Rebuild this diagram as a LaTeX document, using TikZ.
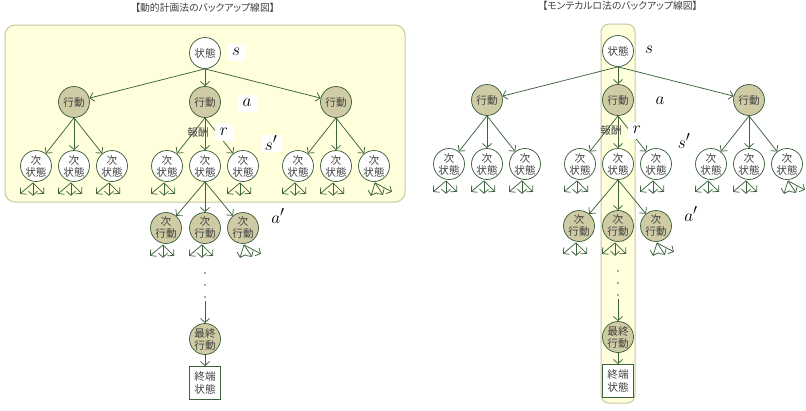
\documentclass[tikz,border=0pt]{standalone}
\usepackage{fontspec}
\newfontfamily\jp{Noto Sans CJK JP}
\newfontfamily\jpt{Noto Sans CJK JP}[RawFeature=+palt]
\usetikzlibrary{arrows.meta}
\definecolor{lc}{HTML}{3E623E}
\definecolor{actf}{HTML}{CFCBA5}
\definecolor{yf}{HTML}{FFFFDB}
\definecolor{yd}{HTML}{C4C9A4}
\definecolor{tc}{HTML}{404040}
\tikzset{
  arr/.style={draw=lc, line width=0.75pt, -{Straight Barb[length=4.2pt,width=9pt]}},
  stnode/.style={circle, draw=lc, fill=white, line width=0.75pt, inner sep=0pt,
    minimum size=31pt, font=\jp\fontsize{10.6}{12}\selectfont, text=tc, align=center},
  actnode/.style={stnode, fill=actf},
  termnode/.style={rectangle, draw=lc, fill=white, line width=0.75pt, inner sep=0pt,
    minimum width=31pt, minimum height=33pt, font=\jp\fontsize{10.6}{13}\selectfont,
    text=tc, align=center},
  lab/.style={fill=white, inner sep=0pt, minimum width=19pt, minimum height=17pt,
    font=\fontsize{19}{19}\selectfont},
  jlab/.style={font=\jp\fontsize{10.6}{11}\selectfont, text=tc, inner sep=0pt},
  ttl/.style={font=\jpt\fontsize{9.8}{10}\selectfont, text=tc},
  dotnode/.style={circle, fill=lc, inner sep=0pt, minimum size=1.8pt},
  ybox/.style={draw=yd, fill=yf, line width=1pt}
}
% ordinary fan of three short arrows below a node
\newcommand\fanN[1]{%
  \draw[arr] ([xshift=-3pt,yshift=-1pt]#1.south) -- ++(-13,11);
  \draw[arr] ([xshift=-3pt,yshift=-1pt]#1.south) -- ++(0,13);
  \draw[arr] ([xshift=-3pt,yshift=-1pt]#1.south) -- ++(11,11);}
% tilted fan
\newcommand\fanT[1]{%
  \draw[arr] ([xshift=1pt,yshift=-1pt]#1.south) -- ++(-4,13);
  \draw[arr] ([xshift=1pt,yshift=-1pt]#1.south) -- ++(8,12);
  \draw[arr] ([xshift=1pt,yshift=-1pt]#1.south) -- ++(17,9);}
\newcommand\mypanel[1]{%
  \node[stnode] (#1root) at (205,53) {状態};
  \node[actnode] (#1a1) at (74,102) {行動};
  \node[actnode] (#1a2) at (205,102) {行動};
  \node[actnode] (#1a3) at (336,102) {行動};
  \foreach \i/\x in {1/74,2/205,3/336}{
    \node[stnode] (#1n\i1) at (\x-38,166) {次\\状態};
    \node[stnode] (#1n\i2) at (\x,166) {次\\状態};
    \node[stnode] (#1n\i3) at (\x+38,166) {次\\状態};
    \draw[arr] (#1root.south) -- (#1a\i);
    \foreach \j in {1,2,3}{\draw[arr] (#1a\i.south) -- (#1n\i\j);}
  }
  \fanN{#1n11}\fanN{#1n12}\fanN{#1n13}
  \fanN{#1n21}\fanN{#1n23}
  \fanN{#1n31}\fanN{#1n32}\fanT{#1n33}
  \node[actnode] (#1m1) at (166,228) {次\\行動};
  \node[actnode] (#1m2) at (205,228) {次\\行動};
  \node[actnode] (#1m3) at (243,228) {次\\行動};
  \foreach \j in {1,2,3}{\draw[arr] (#1n22.south) -- (#1m\j);}
  \fanN{#1m1}\fanN{#1m2}\fanT{#1m3}
  \node[dotnode] (#1d1) at (205,273) {};
  \node[dotnode] (#1d2) at (205,285) {};
  \node[dotnode] (#1d3) at (205,297) {};
  \coordinate (#1dd) at (205,301);
  \node[actnode] (#1fin) at (205,339) {最終\\行動};
  \node[termnode] (#1term) at (205,383) {終端\\状態};
  \draw[arr] (#1dd) -- (#1fin);
  \draw[arr] (#1fin) -- (#1term);
  \node[lab] (#1ls) at (236,52) {$s$};
  \node[lab] (#1la) at (247,103) {$a$};
  \node[jlab] (#1lrw) at (198,132) {報酬};
  \node[lab] (#1lr) at (224,132) {$r$};
  \node[lab] (#1lsp) at (271,143) {$s'$};
  \node[lab] (#1lap) at (278,216) {$a'$};
}
\begin{document}
\begin{tikzpicture}[x=1pt,y=-1pt]
\useasboundingbox (0,0) rectangle (806,410);
\fill[white] (0,0) rectangle (806,410);
\begin{scope}
  \node[ttl] (Ltitle) at (205,8) {【動的計画法のバックアップ線図】};
  \draw[ybox, rounded corners=10pt] (5,25) rectangle (405,202);
  \mypanel{L}
\end{scope}
\begin{scope}[shift={(413,-2)}]
  \node[ttl] (Rtitle) at (207,8) {【モンテカルロ法のバックアップ線図】};
  \draw[ybox, rounded corners=8pt] (188,26) rectangle (222,405);
  \mypanel{R}
\end{scope}
\end{tikzpicture}
\end{document}
